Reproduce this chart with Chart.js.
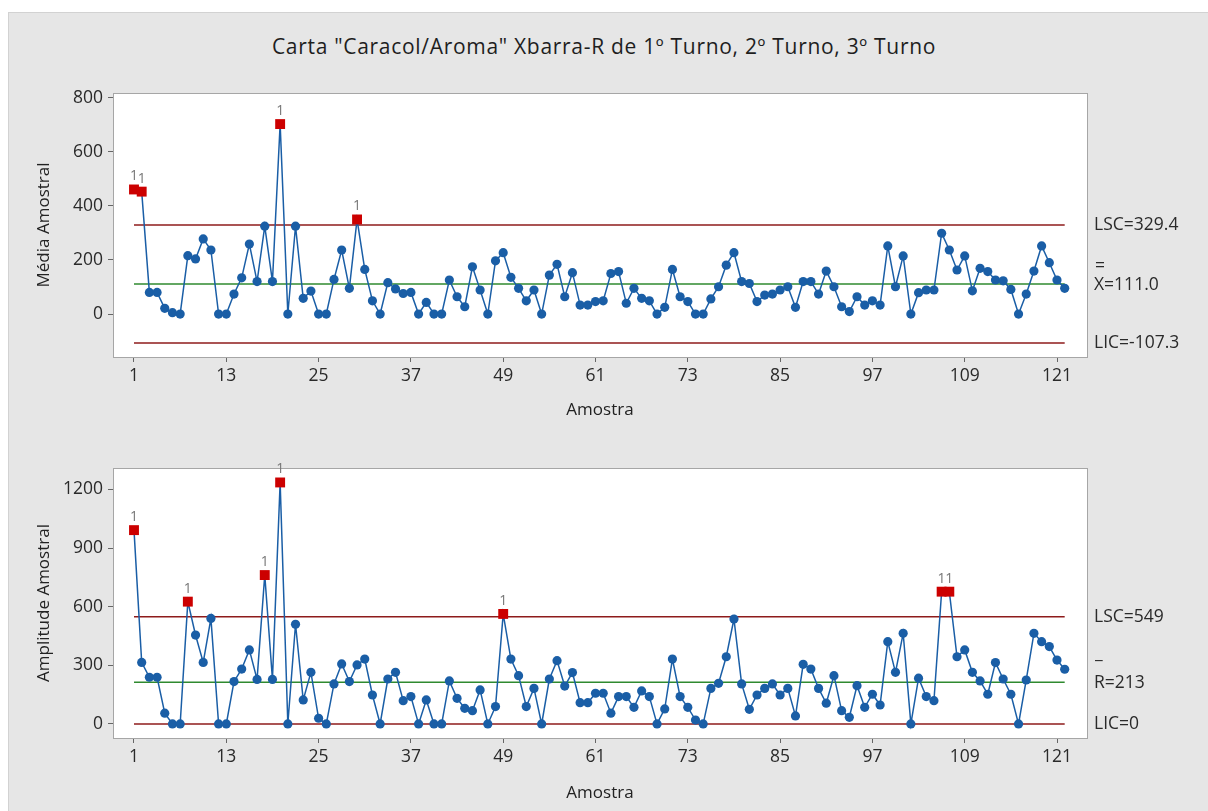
<!DOCTYPE html>
<html>
<head>
<meta charset="utf-8">
<script src="https://cdn.jsdelivr.net/npm/chart.js@4"></script>
<style>
  body { margin: 0; background: #fff; width: 1208px; height: 811px; overflow: hidden; font-family: "Open Sans", sans-serif; }
  #panel { position: absolute; left: 8px; top: 12px; width: 1200px; height: 799px; background: #e6e6e6; border-left: 1px solid #d2d2d2; border-top: 1px solid #d2d2d2; }
  #title { position: absolute; left: 0; top: 32px; width: 1208px; text-align: center; font-size: 21px; letter-spacing: 0.7px; color: #1e1e1e; }
  canvas { position: absolute; left: 0; }
</style>
</head>
<body>
<div id="panel"></div>
<div id="title">Carta "Caracol/Aroma" Xbarra-R de 1º Turno, 2º Turno, 3º Turno</div>
<canvas id="chartX" width="1208" height="430" style="top:0"></canvas>
<canvas id="chartR" width="1208" height="381" style="top:430px"></canvas>
<script>
// médias amostrais (Xbarra)
const xbar = [461, 453, 80, 80, 21, 5, 0, 216, 204, 278, 237, 0, 0, 74, 134, 259, 120, 325, 120, 703,
  0, 325, 58, 85, 0, 0, 128, 237, 95, 350, 165, 49, 0, 116, 93, 76, 80, 0, 43, 0,
  0, 126, 64, 27, 175, 89, 0, 197, 227, 136, 95, 49, 89, 0, 144, 184, 64, 153, 33, 33,
  46, 49, 150, 157, 40, 95, 58, 49, 0, 25, 165, 64, 46, 0, 0, 56, 101, 181, 227, 120,
  113, 46, 70, 74, 89, 101, 25, 120, 120, 74, 159, 101, 27, 9, 64, 33, 49, 33, 252, 101,
  215, 0, 79, 89, 89, 299, 237, 163, 215, 86, 169, 157, 126, 123, 91, 0, 74, 159, 252, 190,
  126, 95];

// amplitudes amostrais (R)
const ranges = [992, 315, 239, 239, 55, 0, 0, 626, 455, 315, 540, 0, 0, 217, 281, 379, 228, 762, 228, 1236,
  0, 510, 123, 264, 29, 0, 205, 307, 217, 302, 332, 148, 0, 230, 264, 119, 140, 0, 123, 0,
  0, 220, 131, 80, 68, 174, 0, 89, 563, 332, 247, 89, 182, 0, 230, 324, 194, 263, 109, 109,
  157, 157, 55, 140, 140, 85, 169, 140, 0, 77, 332, 140, 85, 20, 0, 182, 208, 344, 537, 205,
  75, 148, 182, 205, 148, 182, 41, 305, 281, 182, 106, 247, 68, 34, 196, 85, 152, 97, 421, 264,
  464, 0, 234, 140, 119, 677, 677, 344, 379, 264, 220, 152, 314, 230, 152, 0, 225, 464, 421, 396,
  327, 280];

const xTicks = [1, 13, 25, 37, 49, 61, 73, 85, 97, 109, 121];
const xbarTicks = [0, 200, 400, 600, 800];
const rangeTicks = [0, 300, 600, 900, 1200];

const xbarLimits = { lsc: 329.4, cl: 111.0, lic: -107.3 };
const rangeLimits = { lsc: 549, cl: 213, lic: 0 };

const FONT = '"Open Sans", sans-serif';
const BLUE = '#1a5ea6';
const RED = '#cc0000';

const spcPlugin = {
  id: 'spc',
  beforeDraw(chart) {
    const a = chart.chartArea, ctx = chart.ctx;
    ctx.save();
    ctx.fillStyle = '#fff';
    ctx.fillRect(a.left, a.top, a.right - a.left, a.bottom - a.top);
    ctx.restore();
  },
  afterDraw(chart, args, opts) {
    const a = chart.chartArea, ctx = chart.ctx, y = chart.scales.y;
    ctx.save();
    ctx.strokeStyle = '#a6a6a6';
    ctx.lineWidth = 1;
    ctx.strokeRect(a.left + 0.5, a.top + 0.5, a.right - a.left, a.bottom - a.top);

    // rótulos dos limites
    ctx.fillStyle = '#2a2a2a';
    ctx.font = '17.5px ' + FONT;
    ctx.textBaseline = 'middle';
    ctx.textAlign = 'left';
    const lx = a.right + 7;
    ctx.fillText(opts.lscText, lx, y.getPixelForValue(opts.lsc));
    const cy = y.getPixelForValue(opts.cl);
    ctx.fillText(opts.clText, lx, cy + 1);
    ctx.fillText(opts.barText, lx + 1, cy - opts.barOffset);
    ctx.fillText(opts.licText, lx, y.getPixelForValue(opts.lic));

    // "1" acima dos pontos fora de controle
    const meta = chart.getDatasetMeta(0);
    const vals = chart.data.datasets[0].data;
    ctx.fillStyle = '#777';
    ctx.font = '14px ' + FONT;
    ctx.textAlign = 'center';
    ctx.textBaseline = 'bottom';
    vals.forEach((p, i) => {
      if (p.y > opts.lsc) {
        const el = meta.data[i];
        ctx.fillText('1', el.x, el.y - 6);
      }
    });
    ctx.restore();
  }
};

function makeChart(id, values, limits, yTicks, yMin, yMax, yTitle, pad, xHeight, labels) {
  const pts = values.map((v, i) => ({ x: i + 1, y: v }));
  const n = values.length;
  const limitLine = (v, color) => ({
    data: [{ x: 1, y: v }, { x: n, y: v }],
    borderColor: color, borderWidth: 1.6, pointRadius: 0, order: 2
  });
  const out = p => p.raw.y > limits.lsc;
  return new Chart(document.getElementById(id), {
    type: 'line',
    data: {
      datasets: [
        {
          data: pts,
          borderColor: BLUE,
          borderWidth: 1.5,
          pointStyle: c => out(c) ? 'rect' : 'circle',
          pointRadius: c => out(c) ? 7 : 4.6,
          pointBackgroundColor: c => out(c) ? RED : BLUE,
          pointBorderColor: c => out(c) ? RED : BLUE,
          pointBorderWidth: 0,
          order: 0
        },
        limitLine(limits.lsc, '#8e1b1b'),
        limitLine(limits.cl, '#2f8a2f'),
        limitLine(limits.lic, '#8e1b1b')
      ]
    },
    options: {
      responsive: false,
      animation: false,
      devicePixelRatio: 1,
      layout: { padding: pad },
      plugins: {
        legend: { display: false },
        tooltip: { enabled: false },
        spc: Object.assign({}, limits, labels)
      },
      scales: {
        x: {
          type: 'linear', min: -1.73, max: 124.9,
          afterBuildTicks: s => { s.ticks = xTicks.map(v => ({ value: v })); },
          afterFit: s => { s.height = xHeight; },
          ticks: { font: { family: FONT, size: 17.5 }, color: '#2a2a2a', padding: 4, maxRotation: 0, callback: v => String(v) },
          grid: { display: true, drawOnChartArea: false, drawTicks: true, tickLength: 5, color: '#666' },
          border: { display: false },
          title: { display: true, text: 'Amostra', font: { family: FONT, size: 17 }, color: '#222', padding: { top: 4, bottom: 4 } }
        },
        y: {
          min: yMin, max: yMax,
          afterBuildTicks: s => { s.ticks = yTicks.map(v => ({ value: v })); },
          afterFit: s => { s.width = 113 - pad.left; },
          ticks: { font: { family: FONT, size: 17.5 }, color: '#2a2a2a', padding: 5, callback: v => String(v) },
          grid: { display: true, drawOnChartArea: false, drawTicks: true, tickLength: 5, color: '#666' },
          border: { display: false },
          title: { display: true, text: yTitle, font: { family: FONT, size: 17 }, color: '#222', padding: { top: 4, bottom: 4 } }
        }
      }
    },
    plugins: [spcPlugin]
  });
}

makeChart('chartX', xbar, xbarLimits, xbarTicks, -159, 818, 'Média Amostral',
  { left: 30, right: 121, top: 93, bottom: 6 }, 67,
  { lscText: 'LSC=329.4', clText: 'X=111.0', barText: '=', barOffset: 18, licText: 'LIC=-107.3' });

makeChart('chartR', ranges, rangeLimits, rangeTicks, -72, 1310, 'Amplitude Amostral',
  { left: 30, right: 121, top: 38, bottom: 4 }, 69,
  { lscText: 'LSC=549', clText: 'R=213', barText: '_', barOffset: 29, licText: 'LIC=0' });
</script>
</body>
</html>
